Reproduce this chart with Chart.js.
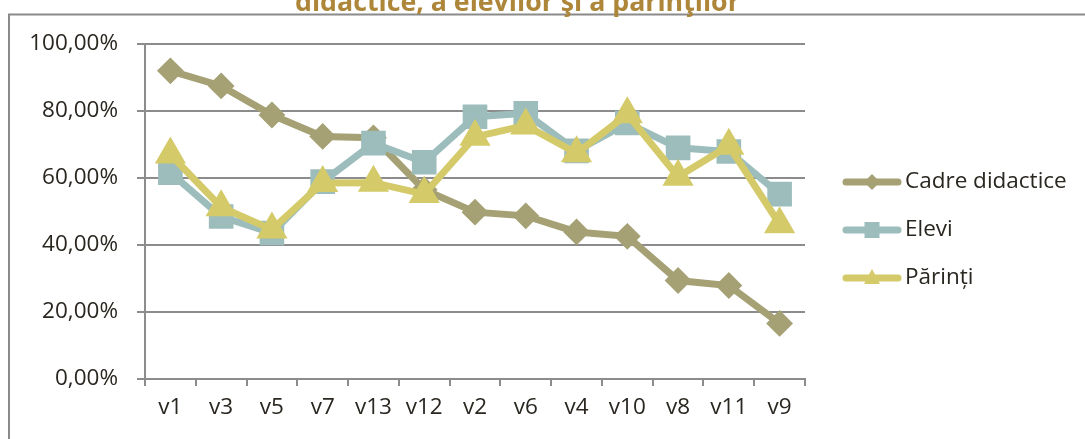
<!DOCTYPE html>
<html>
<head>
<meta charset="utf-8">
<script src="https://cdn.jsdelivr.net/npm/chart.js@4/dist/chart.umd.min.js"></script>
<style>
  html, body { margin: 0; padding: 0; background: #ffffff; }
  #wrap { width: 1085px; height: 439px; position: relative; }
</style>
</head>
<body>
<div id="wrap"><canvas id="c" width="1085" height="439"></canvas></div>
<script>
const titleText = 'didactice, a elevilor şi a părinţilor';
const categories = ['v1','v3','v5','v7','v13','v12','v2','v6','v4','v10','v8','v11','v9'];
const yTicks = [0, 20, 40, 60, 80, 100];
const seriesNames = ['Cadre didactice', 'Elevi', 'Părinți'];
const cadreDidactice = [92.0, 87.5, 78.8, 72.4, 72.0, 56.5, 49.8, 48.7, 43.9, 42.6, 29.4, 27.9, 16.6];
const elevi          = [61.6, 48.5, 43.6, 58.9, 70.4, 64.7, 78.3, 79.3, 68.1, 76.4, 69.0, 67.9, 55.2];
const parinti        = [67.0, 51.3, 44.6, 58.5, 58.6, 55.2, 72.3, 75.7, 67.4, 79.0, 60.4, 69.6, 46.2];

const colCadre = '#a5a175';
const colElevi = '#9dbdbd';
const colParinti = '#d4ca69';
const gridCol = '#8c8c8c';
const textCol = '#2a2620';
const FONT = '"Open Sans", "Liberation Sans", sans-serif';

const decorPlugin = {
  id: 'decor',
  beforeDraw(chart) {
    const ctx = chart.ctx;
    ctx.save();
    ctx.fillStyle = '#ffffff';
    ctx.fillRect(0, 0, chart.width, chart.height);
    // frame lines
    ctx.strokeStyle = '#8a8a8a';
    ctx.lineWidth = 2;
    ctx.beginPath();
    ctx.moveTo(9, 439);
    ctx.lineTo(9, 14.5);
    ctx.lineTo(1085, 14.5);
    ctx.stroke();
    // clipped title line
    ctx.fillStyle = '#ad8639';
    let fs = 22;
    ctx.font = 'bold ' + fs + 'px ' + FONT;
    const w = ctx.measureText(titleText).width;
    fs = fs * 445 / w;
    ctx.font = 'bold ' + fs + 'px ' + FONT;
    ctx.textBaseline = 'alphabetic';
    ctx.textAlign = 'left';
    ctx.fillText(titleText, 295, 11);
    ctx.restore();
  },
  afterDraw(chart) {
    const ctx = chart.ctx;
    ctx.save();
    const items = [
      { name: seriesNames[0], col: colCadre, shape: 'diamond', y: 182 },
      { name: seriesNames[1], col: colElevi, shape: 'square', y: 230 },
      { name: seriesNames[2], col: colParinti, shape: 'triangle', y: 278 }
    ];
    items.forEach(it => {
      ctx.strokeStyle = it.col;
      ctx.lineWidth = 7;
      ctx.lineCap = 'round';
      ctx.beginPath();
      ctx.moveTo(846, it.y);
      ctx.lineTo(898, it.y);
      ctx.stroke();
      ctx.fillStyle = it.col;
      const cx = 872, cy = it.y;
      ctx.beginPath();
      if (it.shape === 'diamond') {
        ctx.moveTo(cx, cy - 8); ctx.lineTo(cx + 8, cy); ctx.lineTo(cx, cy + 8); ctx.lineTo(cx - 8, cy);
      } else if (it.shape === 'square') {
        ctx.rect(cx - 7.5, cy - 8, 15, 16);
      } else {
        ctx.moveTo(cx, cy - 9); ctx.lineTo(cx + 8, cy + 6); ctx.lineTo(cx - 8, cy + 6);
      }
      ctx.closePath();
      ctx.fill();
      ctx.fillStyle = textCol;
      ctx.font = '22.5px ' + FONT;
      ctx.textBaseline = 'middle';
      ctx.textAlign = 'left';
      ctx.fillText(it.name, 905, it.y);
    });
    ctx.restore();
  }
};

new Chart(document.getElementById('c'), {
  type: 'line',
  data: {
    labels: categories,
    datasets: [
      {
        label: seriesNames[0], data: cadreDidactice, order: 3,
        borderColor: colCadre, backgroundColor: colCadre, borderWidth: 7,
        pointStyle: 'rectRot', pointRadius: 12, pointBorderWidth: 2,
        pointBorderColor: colCadre, pointBackgroundColor: colCadre, tension: 0
      },
      {
        label: seriesNames[1], data: elevi, order: 2,
        borderColor: colElevi, backgroundColor: colElevi, borderWidth: 7,
        pointStyle: 'rect', pointRadius: 16, pointBorderWidth: 2,
        pointBorderColor: colElevi, pointBackgroundColor: colElevi, tension: 0
      },
      {
        label: seriesNames[2], data: parinti, order: 1,
        borderColor: colParinti, backgroundColor: colParinti, borderWidth: 7,
        pointStyle: 'triangle', pointRadius: 16, pointBorderWidth: 2,
        pointBorderColor: colParinti, pointBackgroundColor: colParinti, tension: 0
      }
    ]
  },
  options: {
    responsive: false,
    animation: false,
    events: [],
    layout: { padding: { top: 44, right: 280, bottom: 0, left: 0 } },
    plugins: { legend: { display: false }, tooltip: { enabled: false }, title: { display: false } },
    scales: {
      x: {
        offset: true,
        grid: { offset: true, drawOnChartArea: false, drawTicks: true, tickLength: 7, color: gridCol, lineWidth: 2 },
        border: { display: true, color: gridCol, width: 2 },
        ticks: { color: textCol, font: { family: FONT, size: 22.5 }, padding: 8, maxRotation: 0, autoSkip: false },
        afterFit(scale) { scale.height = 60; }
      },
      y: {
        min: 0, max: 100,
        afterBuildTicks(scale) { scale.ticks = yTicks.map(v => ({ value: v })); },
        grid: { color: gridCol, lineWidth: 2, drawTicks: true, tickLength: 8 },
        border: { display: true, color: gridCol, width: 2 },
        ticks: {
          color: textCol, font: { family: FONT, size: 22.5 }, padding: 19,
          callback: v => v.toFixed(2).replace('.', ',') + '%'
        },
        afterFit(scale) { scale.width = 145; }
      }
    }
  },
  plugins: [decorPlugin]
});
</script>
</body>
</html>
